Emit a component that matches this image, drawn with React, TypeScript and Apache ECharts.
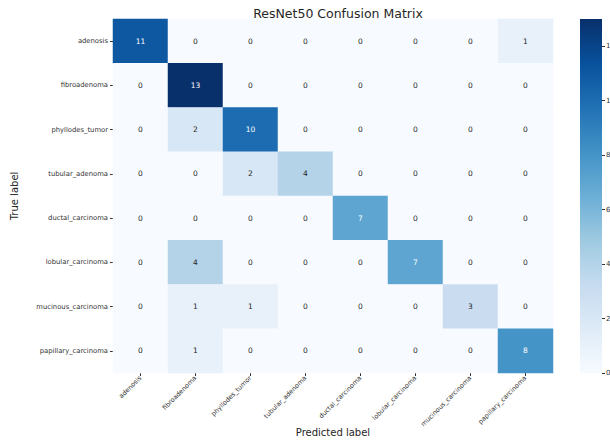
import React, { useEffect, useRef } from "react";
import * as echarts from "echarts";

// Class names, in the same order for rows (true) and columns (predicted)
const classes = [
  "adenosis",
  "fibroadenoma",
  "phyllodes_tumor",
  "tubular_adenoma",
  "ductal_carcinoma",
  "lobular_carcinoma",
  "mucinous_carcinoma",
  "papillary_carcinoma",
];

// Confusion matrix rows: one per true class, counts per predicted class
const rowAdenosis = [11, 0, 0, 0, 0, 0, 0, 1];
const rowFibroadenoma = [0, 13, 0, 0, 0, 0, 0, 0];
const rowPhyllodes = [0, 2, 10, 0, 0, 0, 0, 0];
const rowTubular = [0, 0, 2, 4, 0, 0, 0, 0];
const rowDuctal = [0, 0, 0, 0, 7, 0, 0, 0];
const rowLobular = [0, 4, 0, 0, 0, 7, 0, 0];
const rowMucinous = [0, 1, 1, 0, 0, 0, 3, 0];
const rowPapillary = [0, 1, 0, 0, 0, 0, 0, 8];

const matrix = [
  rowAdenosis,
  rowFibroadenoma,
  rowPhyllodes,
  rowTubular,
  rowDuctal,
  rowLobular,
  rowMucinous,
  rowPapillary,
];

// Colour bar scale and its tick labels
const colorMin = 0;
const colorMax = 13;
const colorTicks = [0, 2, 4, 6, 8, 10, 12];

// matplotlib "Blues" colormap stops
const blues = [
  "#f7fbff",
  "#deebf7",
  "#c6dbef",
  "#9ecae1",
  "#6baed6",
  "#4292c6",
  "#2171b5",
  "#08519c",
  "#08306b",
];

const FONT = "DejaVu Sans";

export default function App() {
  const ref = useRef<HTMLDivElement>(null);

  useEffect(() => {
    document.body.style.margin = "0";
    if (!ref.current) return;
    const chart = echarts.init(ref.current, undefined, { renderer: "svg" });

    const data: any[] = [];
    matrix.forEach((row, y) => {
      row.forEach((v, x) => {
        const dark = v / colorMax > 0.45;
        data.push({
          value: [x, y, v],
          label: { color: dark ? "#ffffff" : "#262626" },
        });
      });
    });

    const grid = { left: 113, top: 19, width: 440, height: 354 };
    const cbar = { left: 580, top: 19, width: 22, height: 354 };

    // Vertical gradient for the colour bar, bottom (min) to top (max)
    const barGradient = new echarts.graphic.LinearGradient(
      0,
      1,
      0,
      0,
      blues.map((c, i) => ({ offset: i / (blues.length - 1), color: c }))
    );

    chart.setOption({
      animation: false,
      backgroundColor: "#ffffff",
      textStyle: { fontFamily: FONT },
      title: {
        text: "ResNet50 Confusion Matrix",
        left: 333,
        textAlign: "center",
        top: 2,
        textStyle: {
          fontFamily: FONT,
          fontSize: 12.5,
          fontWeight: "normal",
          color: "#262626",
        },
      },
      grid: [
        { ...grid, containLabel: false, outerBoundsMode: "none" },
        { ...cbar, containLabel: false, outerBoundsMode: "none" },
      ],
      xAxis: [
        {
          gridIndex: 0,
          type: "category",
          data: classes,
          position: "bottom",
          name: "Predicted label",
          nameLocation: "middle",
          nameGap: 54,
          nameMoveOverlap: false,
          nameTextStyle: { fontFamily: FONT, fontSize: 10, color: "#262626" },
          axisLine: { show: false },
          axisTick: {
            show: true,
            alignWithLabel: true,
            length: 3,
            lineStyle: { color: "#333" },
          },
          axisLabel: {
            interval: 0,
            rotate: 45,
            fontSize: 6.5,
            margin: 4,
            color: "#333",
            fontFamily: FONT,
          },
          splitLine: { show: false },
        },
        {
          gridIndex: 1,
          type: "category",
          data: [""],
          show: false,
        },
      ],
      yAxis: [
        {
          gridIndex: 0,
          type: "category",
          data: classes,
          inverse: true,
          name: "True label",
          nameLocation: "middle",
          nameGap: 94,
          nameRotate: 90,
          nameTextStyle: { fontFamily: FONT, fontSize: 10, color: "#262626" },
          axisLine: { show: false },
          axisTick: {
            show: true,
            alignWithLabel: true,
            length: 3,
            lineStyle: { color: "#333" },
          },
          axisLabel: {
            interval: 0,
            fontSize: 6.8,
            margin: 5,
            color: "#333",
            fontFamily: FONT,
          },
          splitLine: { show: false },
        },
        {
          gridIndex: 1,
          type: "value",
          position: "right",
          min: colorMin,
          max: colorMax,
          axisLine: { show: false },
          axisTick: {
            show: true,
            length: 3,
            customValues: colorTicks,
            lineStyle: { color: "#333" },
          },
          axisLabel: {
            customValues: colorTicks,
            fontSize: 7,
            margin: 4,
            color: "#333",
            fontFamily: FONT,
          },
          splitLine: { show: false },
        },
      ],
      visualMap: {
        type: "continuous",
        show: false,
        min: colorMin,
        max: colorMax,
        dimension: 2,
        seriesIndex: 0,
        inRange: { color: blues },
      },
      series: [
        {
          type: "heatmap",
          xAxisIndex: 0,
          yAxisIndex: 0,
          data,
          itemStyle: { borderWidth: 0 },
          label: {
            show: true,
            fontSize: 7.5,
            fontFamily: FONT,
            formatter: (p: any) => String(p.value[2]),
          },
          emphasis: { disabled: true },
        },
        {
          // colour bar: one full-height bar spanning the scale
          type: "bar",
          xAxisIndex: 1,
          yAxisIndex: 1,
          data: [colorMax],
          barWidth: "100%",
          silent: true,
          itemStyle: { color: barGradient },
        },
      ],
    });

    return () => chart.dispose();
  }, []);

  return <div ref={ref} style={{ width: 610, height: 442 }} />;
}
